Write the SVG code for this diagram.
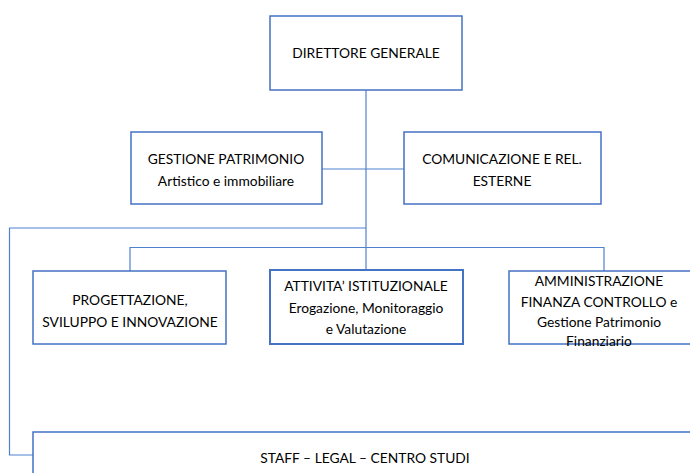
<svg xmlns="http://www.w3.org/2000/svg" width="690" height="473" viewBox="0 0 690 473">
<style>
.box{fill:#fff;stroke:#4472C4;stroke-width:1.5}
.bold{stroke-width:2}
.con{fill:none;stroke:#4F81D0;stroke-width:1.2}
text{font-family:Lato,"Liberation Sans",sans-serif;font-size:13.8px;fill:#000;text-anchor:middle}
</style>
<rect width="690" height="473" fill="#fff"/>
<g id="connectors">
<line class="con" x1="366" y1="90" x2="366" y2="270"/>
<line class="con" x1="322" y1="169" x2="404" y2="169"/>
<polyline class="con" points="366,228 9.5,228 9.5,455 33,455"/>
<polyline class="con" points="130,271 130,247.5 604,247.5 604,271"/>
</g>
<g id="direttore">
<rect class="box" x="270" y="16" width="192" height="74"/>
<text x="366" y="58">DIRETTORE GENERALE</text>
</g>
<g id="gestione">
<rect class="box" x="131" y="132" width="191" height="72"/>
<text x="226" y="164">GESTIONE PATRIMONIO</text>
<text x="226" y="186">Artistico e immobiliare</text>
</g>
<g id="comunicazione">
<rect class="box" x="404" y="132" width="197" height="72"/>
<text x="502" y="164">COMUNICAZIONE E REL.</text>
<text x="502" y="186">ESTERNE</text>
</g>
<g id="progettazione">
<rect class="box" x="33" y="271" width="193" height="73"/>
<text x="130" y="305">PROGETTAZIONE,</text>
<text x="130" y="327">SVILUPPO E INNOVAZIONE</text>
</g>
<g id="attivita">
<rect class="box bold" x="270" y="270" width="193" height="74"/>
<text x="366" y="291">ATTIVITA’ ISTITUZIONALE</text>
<text x="366" y="313">Erogazione, Monitoraggio</text>
<text x="366" y="334">e Valutazione</text>
</g>
<g id="amministrazione">
<rect class="box" x="509" y="271" width="200" height="73"/>
<text x="599" y="286">AMMINISTRAZIONE</text>
<text x="599" y="307">FINANZA CONTROLLO e</text>
<text x="599" y="327">Gestione Patrimonio</text>
<text x="599" y="346">Finanziario</text>
</g>
<g id="staff">
<rect class="box" x="33" y="432" width="680" height="60"/>
<text x="365" y="463">STAFF – LEGAL – CENTRO STUDI</text>
</g>
</svg>
